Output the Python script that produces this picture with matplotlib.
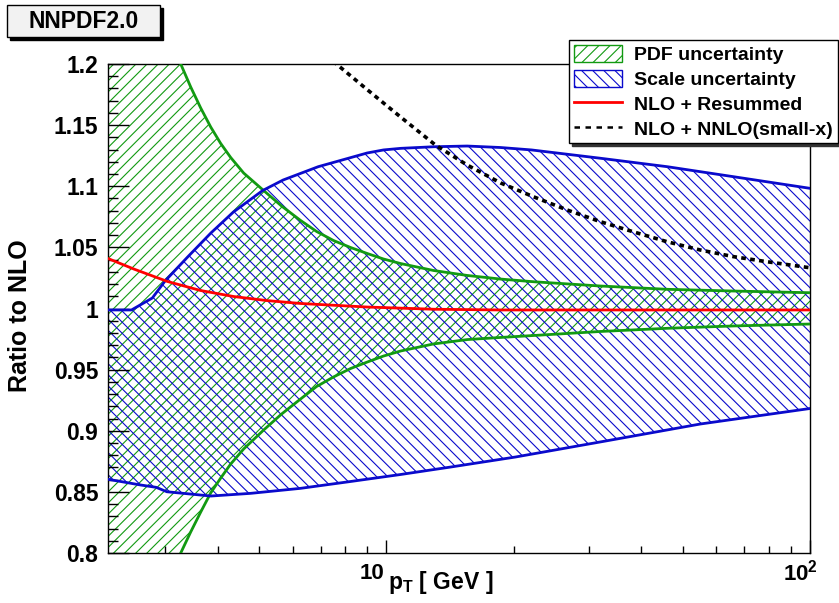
import matplotlib
matplotlib.use("Agg")
import matplotlib.pyplot as plt
import matplotlib.transforms as mtransforms
from matplotlib.patches import Patch, Rectangle
from matplotlib.lines import Line2D
from matplotlib.ticker import MultipleLocator, LogLocator, NullFormatter

# data (pT in GeV, ratio to NLO)
pdf_x = [2.2, 2.776, 3.095, 3.267, 3.449, 3.642, 3.845, 4.06, 4.287, 4.6, 5.128, 5.654, 6.269, 6.838,
         7.499, 8.226, 9.005, 9.838, 10.79, 12.91, 15.53, 18.57, 22.22, 31.97, 46.0, 65.83, 100]
pdf_up = [1.383, 1.269, 1.2204, 1.2, 1.1812, 1.164, 1.1485, 1.135, 1.1235, 1.1108, 1.0965, 1.0838, 1.072, 1.063,
          1.0556, 1.0499, 1.045, 1.0405, 1.0368, 1.0311, 1.027, 1.0241, 1.0219, 1.0184, 1.0157, 1.0143, 1.0129]
pdf_lo = [0.6168, 0.7313, 0.7796, 0.8, 0.8172, 0.8335, 0.8491, 0.8613, 0.8728, 0.8851, 0.9006, 0.9137, 0.926, 0.9362,
          0.944, 0.9509, 0.9562, 0.9611, 0.9652, 0.971, 0.9746, 0.9763, 0.9779, 0.9812, 0.9838, 0.9857, 0.9873]

scale_up_x = [2.2, 2.5, 2.8, 3.0, 3.4, 3.85, 4.35, 5.1, 5.7, 6.9, 9.0, 9.84, 10.8, 12.9, 15.5, 18.57, 22, 32, 46, 66, 100]
scale_up_y = [0.9988, 0.9988, 1.0086, 1.0225, 1.0425, 1.0618, 1.0789, 1.0965, 1.1051, 1.116, 1.1272, 1.1297, 1.131,
              1.1323, 1.1329, 1.1317, 1.1297, 1.1229, 1.116, 1.1078, 1.0983]
scale_lo_x = [2.2, 2.63, 2.86, 3.03, 3.85, 4.78, 6.27, 8.23, 10.79, 14.16, 20.15, 33.39, 55.05, 100]
scale_lo_y = [0.8603, 0.8556, 0.8537, 0.8501, 0.8466, 0.8488, 0.8529, 0.8585, 0.8642, 0.8703, 0.8785, 0.892, 0.9055, 0.9182]

resum_x = [2.2, 2.531, 3.04, 3.642, 4.357, 5.212, 6.269, 9.005, 12.91, 18.57, 100]
resum_y = [1.0409, 1.0323, 1.0221, 1.0147, 1.0098, 1.0065, 1.0041, 1.0012, 0.9994, 0.9988, 0.9988]

nnlo_x = [7.2, 7.58, 9.0, 10.8, 13.05, 15.5, 18.6, 22.2, 26.7, 32, 38.2, 46, 55, 66, 79, 98.2, 100]
nnlo_y = [1.207, 1.2006, 1.1791, 1.1566, 1.1337, 1.1174, 1.1027, 1.0915, 1.0806, 1.071, 1.0628, 1.0546, 1.0479,
          1.0424, 1.0383, 1.0337, 1.0333]

labels = ["PDF uncertainty", "Scale uncertainty", "NLO + Resummed", "NLO + NNLO(small-x)"]

GREEN = "#129a12"
BLUE = "#0a0acc"

plt.rcParams["font.family"] = ["Liberation Sans", "DejaVu Sans"]
plt.rcParams["font.weight"] = "bold"
plt.rcParams["mathtext.fontset"] = "custom"
plt.rcParams["mathtext.rm"] = "Liberation Sans:bold"
plt.rcParams["mathtext.it"] = "Liberation Sans:bold"
plt.rcParams["mathtext.bf"] = "Liberation Sans:bold"
plt.rcParams["hatch.linewidth"] = 0.8

W, H = 839, 603
fig = plt.figure(figsize=(W / 100, H / 100), dpi=100)
ax = fig.add_axes([108 / W, 1 - 553 / H, (810 - 108) / W, (553 - 64) / H])

# bands
ax.fill(pdf_x + pdf_x[::-1], pdf_up + pdf_lo[::-1],
        facecolor="none", edgecolor=GREEN, hatch="///", linewidth=0, zorder=1)
ax.fill(scale_up_x + scale_lo_x[::-1], scale_up_y + scale_lo_y[::-1],
        facecolor="none", edgecolor=BLUE, hatch="\\\\\\", linewidth=0, zorder=1)

ax.plot(pdf_x, pdf_up, color=GREEN, lw=2.0, zorder=3)
ax.plot(pdf_x, pdf_lo, color=GREEN, lw=2.0, zorder=3)
ax.plot(scale_up_x, scale_up_y, color=BLUE, lw=2.0, zorder=3)
ax.plot(scale_lo_x, scale_lo_y, color=BLUE, lw=2.0, zorder=3)
ax.plot(resum_x, resum_y, color="red", lw=2.0, zorder=4)
ax.plot(nnlo_x, nnlo_y, color="black", lw=2.6, dashes=(1.3, 1.2), zorder=4)

ax.set_xscale("log")
ax.set_xlim(2.2, 100)
ax.set_ylim(0.8, 1.2)

# ticks, ROOT style (inside, left/bottom only)
ax.yaxis.set_minor_locator(MultipleLocator(0.01))
ax.set_yticks([0.8, 0.85, 0.9, 0.95, 1.0, 1.05, 1.1, 1.15, 1.2])
ax.set_yticklabels(["0.8", "0.85", "0.9", "0.95", "1", "1.05", "1.1", "1.15", "1.2"])
ax.tick_params(axis="y", which="major", direction="in", length=15, width=1, labelsize=16.5, pad=7, right=False)
ax.tick_params(axis="y", which="minor", direction="in", length=7.5, width=1, right=False)
ax.xaxis.set_major_locator(LogLocator(base=10, numticks=10))
ax.xaxis.set_minor_locator(LogLocator(base=10, subs=range(2, 10), numticks=20))
ax.xaxis.set_major_formatter(NullFormatter())
ax.xaxis.set_minor_formatter(NullFormatter())
ax.tick_params(axis="x", which="major", direction="in", length=9.5, width=1, top=False)
ax.tick_params(axis="x", which="minor", direction="in", length=5, width=1, top=False)
for sp in ax.spines.values():
    sp.set_linewidth(1.0)

# x tick labels placed like ROOT does
trans = mtransforms.blended_transform_factory(ax.transData, ax.transAxes)
ax.text(10, 0, "10", transform=mtransforms.offset_copy(trans, fig=fig, x=-2, y=-10, units="dots"),
        ha="right", va="top", fontsize=16, fontweight="bold")
ax.text(100, 0, r"$10^{2}$", transform=mtransforms.offset_copy(trans, fig=fig, x=8, y=-7, units="dots"),
        ha="right", va="top", fontsize=16, fontweight="bold")

fig.text(388 / W, 1 - 582 / H, r"$\mathrm{p}_{\mathrm{T}}$ [ GeV ]", ha="left", va="center",
         fontsize=16.5, fontweight="bold")
fig.text(20 / W, 1 - 316 / H, "Ratio to NLO", rotation=90, ha="center", va="center",
         fontsize=18, fontweight="bold")

# title box with shadow
fig.patches.append(Rectangle((10 / W, 1 - 40 / H), 153 / W, 32 / H, transform=fig.transFigure,
                             facecolor="black", edgecolor="black", zorder=1))
fig.patches.append(Rectangle((7 / W, 1 - 37 / H), 153 / W, 32 / H, transform=fig.transFigure,
                             facecolor="#f2f2f2", edgecolor="black", lw=1, zorder=2))
fig.text(84 / W, 1 - 22 / H, "NNPDF2.0", ha="center", va="center", fontsize=16.5,
         fontweight="bold", zorder=3)

# legend
handles = [
    Patch(facecolor="white", edgecolor=GREEN, hatch="///", lw=1),
    Patch(facecolor="white", edgecolor=BLUE, hatch="\\\\\\", lw=1),
    Line2D([], [], color="red", lw=2),
    Line2D([], [], color="black", lw=1.8, dashes=(2.2, 2.2)),
]
leg = ax.legend(handles, labels, loc="upper left", bbox_to_anchor=(569 / W, 1 - 40 / H),
                bbox_transform=fig.transFigure, prop={"weight": "bold", "size": 14},
                frameon=True, fancybox=False, shadow={"color": "#333333", "alpha": 1},
                borderaxespad=0, borderpad=0.25, handlelength=2.5, handleheight=1.0,
                handletextpad=0.6, labelspacing=0.28)
leg.get_frame().set_edgecolor("black")
leg.get_frame().set_linewidth(1.0)
leg.get_frame().set_alpha(1)

fig.savefig("out.png", dpi=100)
